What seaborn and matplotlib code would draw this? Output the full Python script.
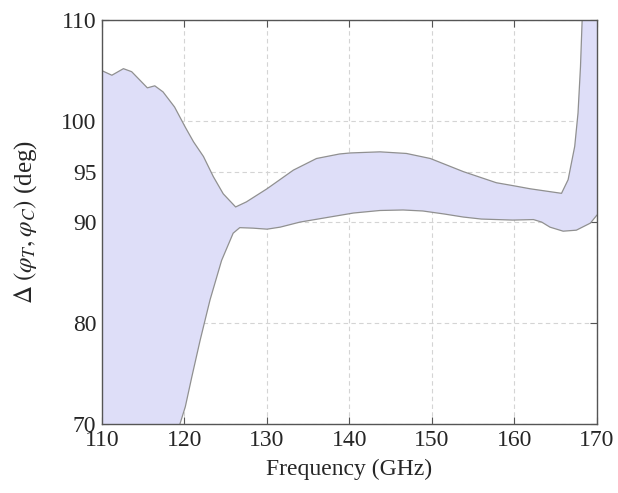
import numpy as np
import pandas as pd
import matplotlib
matplotlib.use("Agg")
import matplotlib.pyplot as plt
import seaborn as sns

# upper boundary of the phase-difference band
freq_upper = [110.0, 111.2, 112.6, 113.6, 114.6, 115.5, 116.4, 117.4, 118.8, 120.1,
              121.1, 122.3, 123.5, 124.7, 126.2, 127.5, 130.0, 133.2, 136.0, 138.8,
              140.1, 143.7, 146.9, 149.8, 153.8, 157.8, 159.9, 161.9, 165.7, 166.5,
              167.3, 167.7, 168.0, 168.2, 168.6, 170.0]
phase_upper = [105.0, 104.55, 105.2, 104.9, 104.06, 103.3, 103.5, 102.9, 101.4, 99.4,
               97.95, 96.5, 94.5, 92.8, 91.5, 92.0, 93.3, 95.15, 96.3, 96.75,
               96.85, 96.96, 96.8, 96.3, 95.0, 93.9, 93.6, 93.3, 92.85, 94.2,
               97.5, 100.8, 105.4, 110.0, 118.0, 135.0]

# lower boundary
freq_lower = [110.0, 118.0, 118.9, 119.45, 120.1, 120.9, 121.9, 123.1, 124.5, 125.9,
              126.7, 128.3, 130.0, 131.6, 134.0, 137.6, 140.5, 143.7, 146.5, 148.9,
              151.5, 153.8, 156.0, 159.8, 162.3, 163.3, 164.3, 165.9, 167.5, 169.2, 170.0]
phase_lower = [50.0, 55.0, 65.0, 70.0, 71.7, 74.7, 78.3, 82.3, 86.2, 88.9,
               89.45, 89.4, 89.3, 89.5, 90.0, 90.5, 90.9, 91.15, 91.2, 91.1,
               90.8, 90.5, 90.3, 90.2, 90.25, 90.0, 89.5, 89.1, 89.2, 89.9, 90.7]

xticks = [110, 120, 130, 140, 150, 160, 170]
yticks = [70, 80, 90, 95, 100, 110]

upper = pd.DataFrame({"f": freq_upper, "p": phase_upper})
lower = pd.DataFrame({"f": freq_lower, "p": phase_lower})

sns.set_style("ticks")
plt.rcParams["font.family"] = ["Liberation Serif", "DejaVu Serif"]
plt.rcParams["mathtext.fontset"] = "stix"

fig = plt.figure(figsize=(6.18, 4.93), dpi=100)
ax = fig.add_axes([0.165, 0.14, 0.801, 0.819])

# band between the two curves
poly_x = np.concatenate([upper["f"].values, lower["f"].values[::-1]])
poly_y = np.concatenate([upper["p"].values, lower["p"].values[::-1]])
ax.fill(poly_x, poly_y, color="#dedef8", lw=0, zorder=1)

sns.lineplot(data=upper, x="f", y="p", ax=ax, color="#909090", lw=0.9, zorder=2)
sns.lineplot(data=lower, x="f", y="p", ax=ax, color="#909090", lw=0.9, zorder=2)

ax.set_xlim(110, 170)
ax.set_ylim(70, 110)
ax.set_xticks(xticks)
ax.set_yticks(yticks)
ax.grid(True, color="#d4d4d4", ls=(0, (4, 3)), lw=0.8, zorder=0)
ax.set_axisbelow(True)
ax.tick_params(direction="in", top=True, right=True, length=5, width=0.8,
               color="#555555", labelsize=17, pad=4)
for sp in ax.spines.values():
    sp.set_color("#555555")
    sp.set_linewidth(1.0)

ax.set_xlabel("Frequency (GHz)", fontsize=17, labelpad=6)
ax.set_ylabel(r"$\Delta\;(\varphi_T,\varphi_C)$ (deg)", fontsize=18, labelpad=16)

fig.savefig("out.png", dpi=100)
